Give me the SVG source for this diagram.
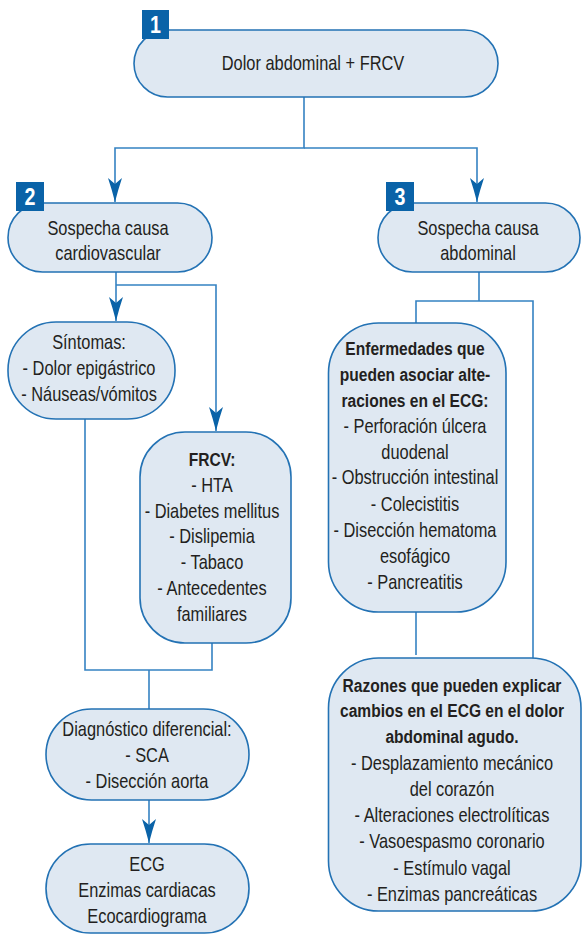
<svg xmlns="http://www.w3.org/2000/svg" width="582" height="934" viewBox="0 0 582 934">
<style>
.box{fill:#dfe8f2;stroke:#2372b4;stroke-width:1.6}
.badge{fill:#0a63a8}
.bt{font-family:"Liberation Sans",Arial,sans-serif;font-weight:bold;font-size:24px;fill:#fff;text-anchor:middle}
.t{font-family:"Liberation Sans",Arial,sans-serif;font-size:20px;fill:#231f20;text-anchor:middle}
.b{font-weight:bold;font-size:19px}
.c{fill:none;stroke:#3582c2;stroke-width:1.6}
</style>
<defs>
<marker id="ah" markerUnits="userSpaceOnUse" markerWidth="26" markerHeight="16" viewBox="-25 -8 26 16" refX="0" refY="0" orient="auto">
<path d="M0,0 Q-12,-3 -24,-7 L-18,0 L-24,7 Q-12,3 0,0 Z" fill="#0a63a8"/>
</marker>
</defs>
<g id="connectors">
<path class="c" d="M304 97 V148 H115 V202" marker-end="url(#ah)"/>
<path class="c" d="M304 148 H477 V202" marker-end="url(#ah)"/>
<path class="c" d="M116 272 V321" marker-end="url(#ah)"/>
<path class="c" d="M116 285 H216 V431" marker-end="url(#ah)"/>
<path class="c" d="M85 419 V670 H212 V643"/>
<path class="c" d="M149 670 V709"/>
<path class="c" d="M149 800 V843" marker-end="url(#ah)"/>
<path class="c" d="M479 272 V301"/>
<path class="c" d="M416 323 V301 H533 V658"/>
<path class="c" d="M416 612 V655"/>
</g>
<g id="n1">
<rect class="box" x="134" y="30" width="364" height="67" rx="33.5"/>
<rect class="badge" x="142" y="10" width="27" height="29"/>
<text class="bt" transform="matrix(0.82 0 0 1 155.5 33)">1</text>
<text class="t" transform="matrix(0.82 0 0 1 313 70)">Dolor abdominal + FRCV</text>
</g>
<g id="n2">
<rect class="box" x="8" y="203" width="204" height="69" rx="34.5"/>
<rect class="badge" x="16" y="182" width="28" height="29"/>
<text class="bt" transform="matrix(0.82 0 0 1 30 205)">2</text>
<text class="t" transform="matrix(0.82 0 0 1 108 235)">Sospecha causa</text>
<text class="t" transform="matrix(0.82 0 0 1 108 260)">cardiovascular</text>
</g>
<g id="n3">
<rect class="box" x="378" y="203" width="202" height="69" rx="34.5"/>
<rect class="badge" x="386" y="182" width="28" height="29"/>
<text class="bt" transform="matrix(0.82 0 0 1 400 205)">3</text>
<text class="t" transform="matrix(0.82 0 0 1 478 235)">Sospecha causa</text>
<text class="t" transform="matrix(0.82 0 0 1 478 260)">abdominal</text>
</g>
<g id="sintomas">
<rect class="box" x="8" y="322" width="167" height="97" rx="48"/>
<text class="t" transform="matrix(0.82 0 0 1 89 349)">Síntomas:</text>
<text class="t" transform="matrix(0.82 0 0 1 89 375)">- Dolor epigástrico</text>
<text class="t" transform="matrix(0.82 0 0 1 89 401)">- Náuseas/vómitos</text>
</g>
<g id="frcv">
<rect class="box" x="140" y="432" width="151" height="211" rx="45"/>
<text class="t b" transform="matrix(0.82 0 0 1 212 466)">FRCV:</text>
<text class="t" transform="matrix(0.82 0 0 1 212 492)">- HTA</text>
<text class="t" transform="matrix(0.82 0 0 1 212 518)">- Diabetes mellitus</text>
<text class="t" transform="matrix(0.82 0 0 1 212 543)">- Dislipemia</text>
<text class="t" transform="matrix(0.82 0 0 1 212 569)">- Tabaco</text>
<text class="t" transform="matrix(0.82 0 0 1 212 595)">- Antecedentes</text>
<text class="t" transform="matrix(0.82 0 0 1 212 621)">familiares</text>
</g>
<g id="enfermedades">
<rect class="box" x="328.5" y="323" width="177.5" height="289" rx="50"/>
<text class="t b" transform="matrix(0.82 0 0 1 415 355)">Enfermedades que</text>
<text class="t b" transform="matrix(0.82 0 0 1 415 381)">pueden asociar alte-</text>
<text class="t b" transform="matrix(0.82 0 0 1 415 407)">raciones en el ECG:</text>
<text class="t" transform="matrix(0.82 0 0 1 415 433)">- Perforación úlcera</text>
<text class="t" transform="matrix(0.82 0 0 1 415 459)">duodenal</text>
<text class="t" transform="matrix(0.82 0 0 1 415 484)">- Obstrucción intestinal</text>
<text class="t" transform="matrix(0.82 0 0 1 415 511)">- Colecistitis</text>
<text class="t" transform="matrix(0.82 0 0 1 415 537)">- Disección hematoma</text>
<text class="t" transform="matrix(0.82 0 0 1 415 563)">esofágico</text>
<text class="t" transform="matrix(0.82 0 0 1 415 589)">- Pancreatitis</text>
</g>
<g id="razones">
<rect class="box" x="328.5" y="658" width="252.5" height="253" rx="50"/>
<text class="t b" transform="matrix(0.82 0 0 1 452 692)">Razones que pueden explicar</text>
<text class="t b" transform="matrix(0.82 0 0 1 452 717)">cambios en el ECG en el dolor</text>
<text class="t b" transform="matrix(0.82 0 0 1 452 743)">abdominal agudo.</text>
<text class="t" transform="matrix(0.82 0 0 1 452 770)">- Desplazamiento mecánico</text>
<text class="t" transform="matrix(0.82 0 0 1 452 796)">del corazón</text>
<text class="t" transform="matrix(0.82 0 0 1 452 822)">- Alteraciones electrolíticas</text>
<text class="t" transform="matrix(0.82 0 0 1 452 848)">- Vasoespasmo coronario</text>
<text class="t" transform="matrix(0.82 0 0 1 452 875)">- Estímulo vagal</text>
<text class="t" transform="matrix(0.82 0 0 1 452 901)">- Enzimas pancreáticas</text>
</g>
<g id="diag">
<rect class="box" x="46" y="709" width="203" height="91" rx="45.5"/>
<text class="t" transform="matrix(0.82 0 0 1 147 736)">Diagnóstico diferencial:</text>
<text class="t" transform="matrix(0.82 0 0 1 147 762)">- SCA</text>
<text class="t" transform="matrix(0.82 0 0 1 147 788)">- Disección aorta</text>
</g>
<g id="ecg">
<rect class="box" x="46" y="844" width="203" height="89" rx="44.5"/>
<text class="t" transform="matrix(0.82 0 0 1 147 871)">ECG</text>
<text class="t" transform="matrix(0.82 0 0 1 147 897)">Enzimas cardiacas</text>
<text class="t" transform="matrix(0.82 0 0 1 147 923)">Ecocardiograma</text>
</g>
</svg>
